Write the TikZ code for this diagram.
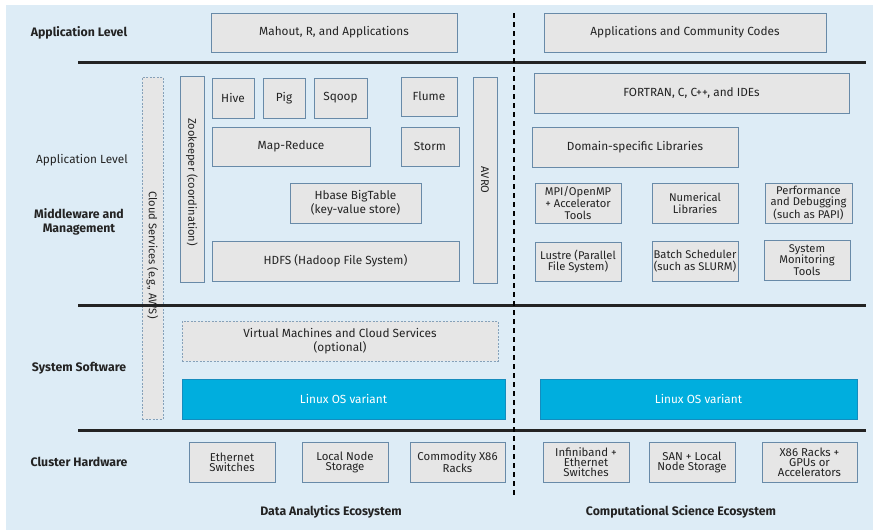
\documentclass[tikz,border=0pt]{standalone}
\usepackage{fontspec}
\setmainfont{Fira Sans}
\definecolor{bgc}{RGB}{221,236,246}
\definecolor{boxfill}{RGB}{230,230,230}
\definecolor{boxline}{RGB}{104,138,168}
\definecolor{linuxc}{RGB}{0,174,222}
\definecolor{linuxline}{RGB}{20,140,190}
\definecolor{txt}{RGB}{35,35,35}
\definecolor{sepc}{RGB}{35,35,35}
\tikzset{
  box/.style={draw=boxline, fill=boxfill, line width=0.8pt, align=center, inner sep=0pt, text=txt, font=\fontsize{11.8}{14}\selectfont},
  tight/.style={font=\fontsize{11.4}{10}\selectfont},
  mid/.style={font=\fontsize{11.2}{11.8}\selectfont},
  dbox/.style={box, draw=boxline!80, dash pattern=on 2pt off 1.5pt, line width=0.6pt},
  linux/.style={box, fill=linuxc, draw=linuxline, text=white},
  vert/.style={rotate=-90, text=txt, font=\fontsize{11.1}{13}\selectfont},
  lvl/.style={font=\bfseries\fontsize{12.3}{14}\selectfont, text=txt, align=center},
  lvlplain/.style={font=\fontsize{11.8}{14}\selectfont, text=txt},
  sep/.style={draw=sepc, line width=3pt},
  divider/.style={draw=black, line width=1.6pt, dash pattern=on 5pt off 4pt}
}
\newcommand{\mybox}[7][box]{%
  \node[#1, minimum width={(#5-#3)*1pt}, minimum height={(#6-#4)*1pt}] (#2) at ({(#3+#5)/2},{(#4+#6)/2}) {#7};}
\begin{document}
\begin{tikzpicture}[x=1pt,y=-1pt]
\useasboundingbox (0,0) rectangle (878,531);
\fill[bgc] (6,5) rectangle (873,530);

% level labels
\node[lvl] (lApp) at (79,33) {Application Level};
\node[lvlplain] (lApp2) at (82,160) {Application Level};
\node[lvl] (lMid) at (79,222) {Middleware and\\Management};
\node[lvl] (lSys) at (79,368) {System Software};
\node[lvl] (lHw) at (79,462) {Cluster Hardware};
\node[lvl] (eDA) at (331,512) {Data Analytics Ecosystem};
\node[lvl] (eCS) at (681,512) {Computational Science Ecosystem};

% application level
\mybox{mahout}{211}{13}{457}{52}{Mahout, R, and Applications}
\mybox{appcc}{544}{13}{826}{52}{Applications and Community Codes}

% data analytics middleware
\mybox[dbox]{cloud}{142}{77}{163}{419}{}
\node[vert] (cloudt) at (152.5,255) {Cloud Services (e.g., AWS)};
\mybox{zoo}{180}{76}{204}{282}{}
\node[vert] (zoot) at (192,182) {Zookeeper (coordination)};
\mybox{avro}{473}{77}{497}{283}{}
\node[vert] (avrot) at (485,180) {AVRO};
\mybox{hive}{212}{78}{254}{118}{Hive}
\mybox{pig}{263}{78}{305}{118}{Pig}
\mybox{sqoop}{314}{78}{367}{118}{Sqoop}
\mybox{flume}{401}{77}{457}{116}{Flume}
\mybox{mapred}{212}{127}{370}{166}{Map-Reduce}
\mybox{storm}{401}{127}{459}{166}{Storm}
\mybox{hbase}{290}{183}{421}{223}{Hbase BigTable\\(key-value store)}
\mybox{hdfs}{212}{241}{459}{281}{HDFS (Hadoop File System)}

% computational science middleware
\mybox{fortran}{534}{73}{849}{113}{FORTRAN, C, C++, and IDEs}
\mybox{domain}{532}{127}{738}{167}{Domain-specific Libraries}
\mybox[box,mid]{mpi}{535}{183}{621}{223}{MPI/OpenMP\\+ Accelerator\\Tools}
\mybox[box,mid]{numlib}{652}{183}{738}{223}{Numerical\\Libraries}
\mybox[box,mid]{perf}{765}{183}{852}{223}{Performance\\and Debugging\\(such as PAPI)}
\mybox[box,mid]{lustre}{535}{242}{621}{281}{Lustre (Parallel\\File System)}
\mybox[box,mid]{batch}{652}{241}{738}{281}{Batch Scheduler\\(such as SLURM)}
\mybox[box,mid]{sysmon}{764}{240}{850}{280}{System\\Monitoring\\Tools}

% system software
\mybox[dbox]{vm}{182}{321}{498}{361}{Virtual Machines and Cloud Services\\(optional)}
\mybox[linux]{linuxL}{182}{379}{505}{419}{Linux OS variant}
\mybox[linux]{linuxR}{540}{379}{857}{419}{Linux OS variant}

% hardware
\mybox[box,tight]{eth}{189}{442}{275}{482}{Ethernet\\Switches}
\mybox[box,tight]{local}{302}{442}{388}{482}{Local Node\\Storage}
\mybox[box,tight]{commod}{410}{442}{505}{482}{Commodity X86\\Racks}
\mybox[box,tight]{infini}{543}{442}{629}{482}{Infiniband +\\Ethernet\\Switches}
\mybox[box,tight]{san}{649}{442}{735}{482}{SAN + Local\\Node Storage}
\mybox[box,tight]{x86}{762}{442}{857}{482}{X86 Racks +\\GPUs or\\Accelerators}

% separators
\draw[sep] (78,62) -- (866,62);
\draw[sep] (78,305) -- (866,305);
\draw[sep] (78,430) -- (866,430);
\draw[divider] (514,13) -- (514,495);
\end{tikzpicture}
\end{document}
